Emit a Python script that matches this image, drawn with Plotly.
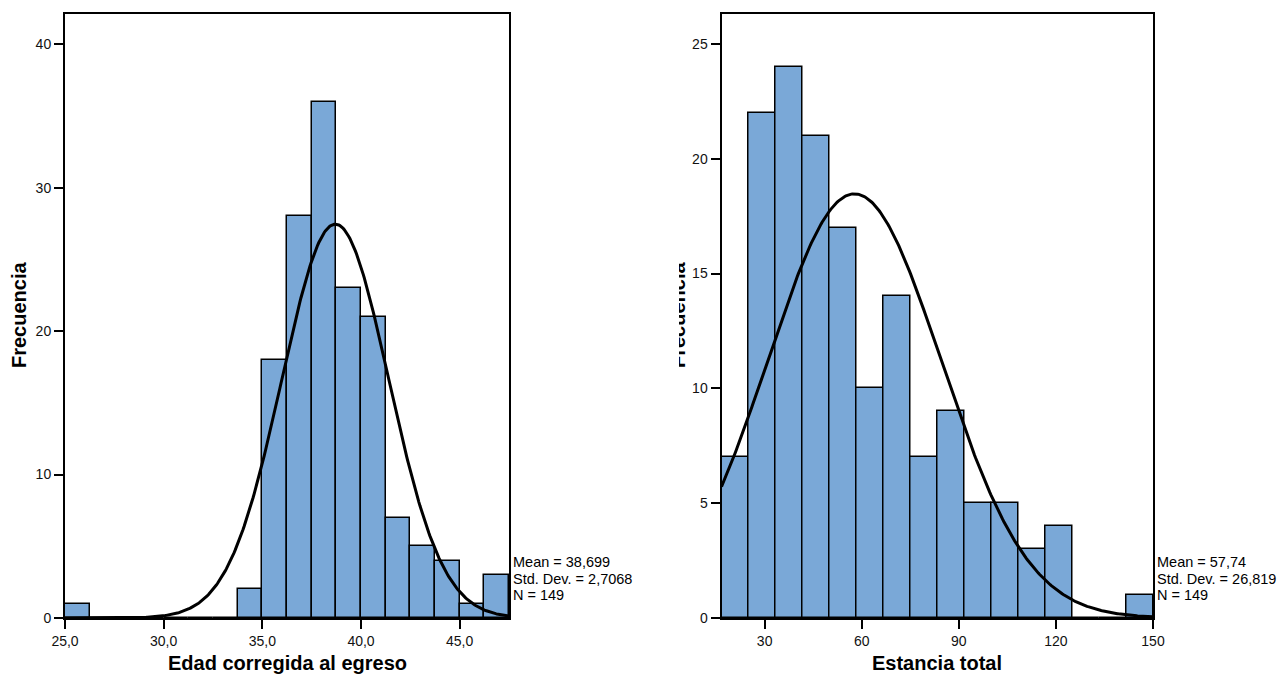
import numpy as np
import plotly.graph_objects as go

# ---- data ----
edad_bin_start = 25.0
edad_bin_width = 1.25
edad_counts = [1, 0, 0, 0, 0, 0, 0, 2, 18, 28, 36, 23, 21, 7, 5, 4, 1, 3]
edad_mean, edad_sd, edad_n = 38.699, 2.7068, 149
edad_ticks = [25, 30, 35, 40, 45]
edad_ticktext = ["25,0", "30,0", "35,0", "40,0", "45,0"]
edad_yticks = [0, 10, 20, 30, 40]
edad_stats = ["Mean = 38,699", "Std. Dev. = 2,7068", "N = 149"]

est_bin_start = 50 / 3
est_bin_width = 25 / 3
est_counts = [7, 22, 24, 21, 17, 10, 14, 7, 9, 5, 5, 3, 4, 0, 0, 1]
est_mean, est_sd, est_n = 57.74, 26.819, 149
est_ticks = [30, 60, 90, 120, 150]
est_yticks = [0, 5, 10, 15, 20, 25]
est_stats = ["Mean = 57,74", "Std. Dev. = 26,819", "N = 149"]

W, H = 1281, 677
BAR = "#7AA8D7"
FONT = "Liberation Sans, Arial, sans-serif"


def px_x(p):
    return p / W


def px_y(p):
    return 1 - p / H


def centers(start, width, n):
    return [start + width * (i + 0.5) for i in range(n)]


def normal_curve(start, width, nb, mean, sd, n):
    xs = np.linspace(start, start + width * nb, 400)
    ys = n * width / (sd * np.sqrt(2 * np.pi)) * np.exp(-0.5 * ((xs - mean) / sd) ** 2)
    return xs, ys


fig = go.Figure()

# left histogram
fig.add_trace(go.Bar(
    x=centers(edad_bin_start, edad_bin_width, len(edad_counts)), y=edad_counts,
    width=edad_bin_width, marker=dict(color=BAR, line=dict(color="black", width=1.5)),
    xaxis="x", yaxis="y", showlegend=False, hoverinfo="skip"))
cx, cy = normal_curve(edad_bin_start, edad_bin_width, len(edad_counts), edad_mean, edad_sd, edad_n)
fig.add_trace(go.Scatter(x=cx, y=cy, mode="lines", line=dict(color="black", width=3),
                         xaxis="x", yaxis="y", showlegend=False, hoverinfo="skip"))

# right histogram
fig.add_trace(go.Bar(
    x=centers(est_bin_start, est_bin_width, len(est_counts)), y=est_counts,
    width=est_bin_width, marker=dict(color=BAR, line=dict(color="black", width=1.5)),
    xaxis="x2", yaxis="y2", showlegend=False, hoverinfo="skip"))
cx2, cy2 = normal_curve(est_bin_start, est_bin_width, len(est_counts), est_mean, est_sd, est_n)
fig.add_trace(go.Scatter(x=cx2, y=cy2, mode="lines", line=dict(color="black", width=3),
                         xaxis="x2", yaxis="y2", showlegend=False, hoverinfo="skip"))

axis_common = dict(showline=True, linecolor="black", linewidth=2, mirror=True,
                   ticks="outside", ticklen=9, tickwidth=1.5, tickcolor="black",
                   showgrid=False, zeroline=False, automargin=False,
                   tickfont=dict(family=FONT, size=14, color="#111"))

ydom = [px_y(618), px_y(14)]
fig.update_layout(
    width=W, height=H, margin=dict(l=0, r=0, t=0, b=0, pad=0, autoexpand=False),
    paper_bgcolor="white", plot_bgcolor="white", bargap=0,
    xaxis=dict(domain=[px_x(65), px_x(509)], range=[25, 47.5],
               tickvals=edad_ticks, ticktext=edad_ticktext, **axis_common),
    yaxis=dict(domain=ydom, range=[0, 42.1], tickvals=edad_yticks, **axis_common),
    xaxis2=dict(domain=[px_x(721.5), px_x(1153)], range=[est_bin_start, 150],
                tickvals=est_ticks, anchor="y2", **axis_common),
    yaxis2=dict(domain=ydom, range=[0, 26.3], tickvals=est_yticks, anchor="x2", **axis_common),
)

title_font = dict(family=FONT, size=20, color="black")
stat_font = dict(family=FONT, size=14.5, color="black")
ann = [
    dict(text="<b>Edad corregida al egreso</b>", x=px_x(287), y=px_y(663), font=title_font),
    dict(text="<b>Estancia total</b>", x=px_x(937), y=px_y(663), font=title_font),
    dict(text="<b>Frecuencia</b>", x=px_x(19), y=px_y(315), textangle=-90, font=title_font),
    dict(text="<b>Frecuencia</b>", x=px_x(678), y=px_y(315), textangle=-90, font=title_font),
    # mask hiding most of the clipped right-hand y title
    dict(text="", x=px_x(664), y=px_y(315), width=30, height=140, bgcolor="white",
         borderpad=0, borderwidth=0),
]
for stats, x0 in ((edad_stats, 511), (est_stats, 1155)):
    for i, line in enumerate(stats):
        ann.append(dict(text=line, x=px_x(x0), y=px_y(562 + 16.5 * i),
                        xanchor="left", align="left", font=stat_font))
for a in ann:
    a.setdefault("xref", "paper")
    a.setdefault("yref", "paper")
    a.setdefault("showarrow", False)
    a.setdefault("xanchor", "center")
    a.setdefault("yanchor", "middle")
fig.update_layout(annotations=ann)

fig.write_html(
    "out.html",
    config={"displayModeBar": False},
    post_script="document.body.style.margin='0';document.body.style.padding='0';"
                "document.body.style.overflow='hidden';",
)
